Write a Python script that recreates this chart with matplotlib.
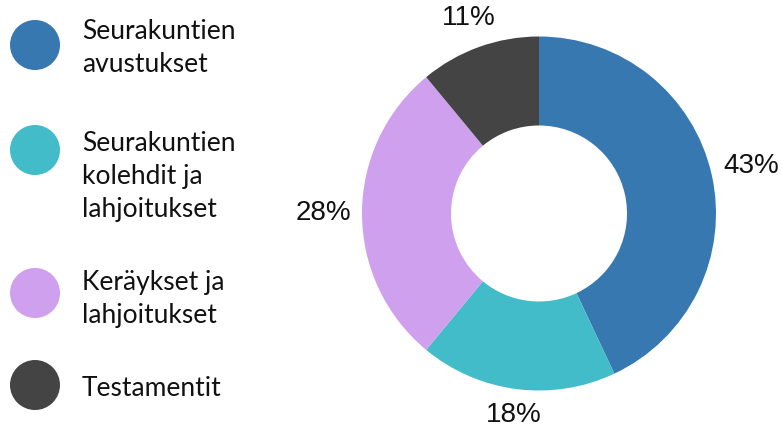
import numpy as np
import matplotlib.pyplot as plt
from matplotlib.patches import Circle

labels = ["Seurakuntien\navustukset", "Seurakuntien\nkolehdit ja\nlahjoitukset",
          "Keräykset ja\nlahjoitukset", "Testamentit"]
shares = [43, 18, 28, 11]
colors = ["#3778B0", "#42BCC8", "#CFA0EE", "#444444"]

W, H = 782, 425
fig = plt.figure(figsize=(W / 100, H / 100), dpi=100)

# donut, pixel geometry: centre (539, 213.5), outer radius 177, hole 88
cx, cy, r = 539, 213.5, 177
ax = fig.add_axes([(cx - r) / W, (H - cy - r) / H, 2 * r / W, 2 * r / H])
wedges, _ = ax.pie(shares, colors=colors, startangle=90, counterclock=False,
                   radius=1, wedgeprops=dict(width=1 - 88 / r, linewidth=0))
ax.set_xlim(-1, 1)
ax.set_ylim(-1, 1)
ax.set_aspect("equal")
ax.axis("off")

# percent labels just outside the ring, nearest edge at fixed gap
hw, hh = 26.5 / r, 10.5 / r
for w, v in zip(wedges, shares):
    a = np.deg2rad((w.theta1 + w.theta2) / 2)
    d = 1.07 + hw * abs(np.cos(a)) + hh * abs(np.sin(a))
    ax.text(d * np.cos(a), d * np.sin(a), f"{v}%", ha="center", va="center",
            fontsize=20, family="Liberation Sans", color="#111111", clip_on=False)

# legend drawn in pixel coords (text y = baseline of last line)
lg = fig.add_axes([0, 0, 1, 1])
lg.set_xlim(0, W)
lg.set_ylim(H, 0)
lg.axis("off")
dot_y = [45, 150, 293, 385]
base_y = [72, 217, 323, 396]
for lab, c, yd, yb in zip(labels, colors, dot_y, base_y):
    lg.add_patch(Circle((35, yd), 25, color=c, lw=0))
    lg.text(82, yb, lab, ha="left", va="baseline", fontsize=19, family="Lato",
            color="#111111", linespacing=1.4)

fig.savefig("out.png", dpi=100)
